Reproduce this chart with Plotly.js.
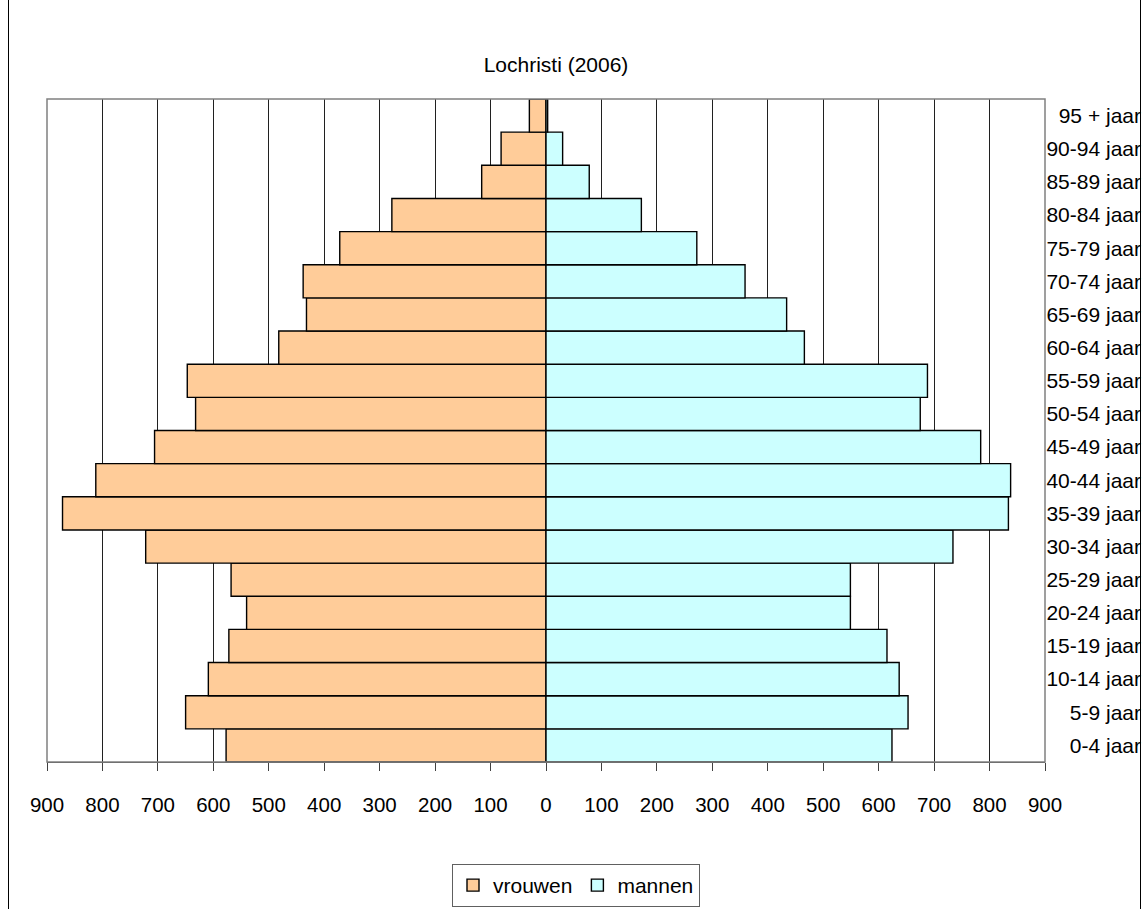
<!DOCTYPE html>
<html>
<head>
<meta charset="utf-8">
<script src="https://cdn.plot.ly/plotly-3.0.1.min.js"></script>
<style>
  html, body { margin: 0; padding: 0; background: #fff; }
  #wrap { position: relative; width: 1142px; height: 909px; }
  #chart { position: absolute; left: 0; top: 0; width: 1142px; height: 909px; }
  #frame { position: absolute; left: 8px; top: -2px; width: 1131px; height: 915px;
           border-left: 1px solid #000; border-right: 1px solid #000; pointer-events: none; }
</style>
</head>
<body>
<div id="wrap">
  <div id="chart"></div>
  <div id="frame"></div>
</div>
<script>
const ageGroups = ['0-4 jaar','5-9 jaar','10-14 jaar','15-19 jaar','20-24 jaar','25-29 jaar',
  '30-34 jaar','35-39 jaar','40-44 jaar','45-49 jaar','50-54 jaar','55-59 jaar','60-64 jaar',
  '65-69 jaar','70-74 jaar','75-79 jaar','80-84 jaar','85-89 jaar','90-94 jaar','95 + jaar'];

const vrouwen = [577, 650, 609, 572, 540, 568, 722, 872, 812, 706, 632, 647, 482, 432, 438, 372, 278, 116, 81, 30];
const mannen  = [624, 653, 637, 615, 549, 549, 734, 834, 838, 784, 675, 688, 466, 434, 359, 272, 172, 78, 30, 3];

const tickValues = [-900,-800,-700,-600,-500,-400,-300,-200,-100,0,100,200,300,400,500,600,700,800,900];
const tickLabels = ['900','800','700','600','500','400','300','200','100','0','100','200','300','400','500','600','700','800','900'];

const FONT = 'Liberation Sans, Arial, sans-serif';

const traces = [
  {
    type: 'bar', orientation: 'h', name: 'vrouwen',
    y: ageGroups, x: vrouwen.map(v => -v),
    marker: { color: '#FFCC99', line: { color: '#000000', width: 1.4 } },
    hoverinfo: 'skip'
  },
  {
    type: 'bar', orientation: 'h', name: 'mannen',
    y: ageGroups, x: mannen,
    marker: { color: '#CCFFFF', line: { color: '#000000', width: 1.4 } },
    hoverinfo: 'skip'
  }
];

const layout = {
  width: 1142, height: 909,
  margin: { l: 47, r: 1, t: 99, b: 147, pad: 0 },
  paper_bgcolor: '#ffffff', plot_bgcolor: '#ffffff',
  font: { family: FONT, size: 21, color: '#000000' },
  barmode: 'relative', bargap: 0,
  title: {
    text: 'Lochristi (2006)',
    font: { family: FONT, size: 21, color: '#000000' },
    xref: 'container', x: 556 / 1142, xanchor: 'center',
    yref: 'container', y: 1 - 65 / 909, yanchor: 'middle'
  },
  xaxis: {
    domain: [0, 998 / 1094],
    range: [-900, 900],
    tickmode: 'array', tickvals: tickValues, ticktext: tickLabels,
    ticks: 'outside', ticklen: 8, tickwidth: 1, tickcolor: '#404040',
    showgrid: true, gridcolor: '#202020', gridwidth: 1,
    zeroline: false,
    showline: true, linecolor: '#404040', linewidth: 1,
    tickfont: { family: FONT, size: 20.5, color: '#000000' },
    ticklabelstandoff: 16,
    fixedrange: true
  },
  yaxis: {
    type: 'category',
    categoryorder: 'array', categoryarray: ageGroups,
    anchor: 'free', position: 1, side: 'left',
    ticks: '', showgrid: false, zeroline: false, showline: false,
    tickfont: { family: FONT, size: 21, color: '#000000' },
    ticklabelstandoff: 0,
    fixedrange: true
  },
  shapes: [
    { type: 'rect', xref: 'x domain', yref: 'y domain', x0: 0, x1: 1, y0: 0, y1: 1,
      line: { color: '#808080', width: 1.5 }, fillcolor: 'rgba(0,0,0,0)', layer: 'above' }
  ],
  showlegend: true,
  legend: {
    orientation: 'h',
    xref: 'paper', x: (576 - 47) / 1094, xanchor: 'center',
    yref: 'paper', y: -(864 - 762) / 663, yanchor: 'top',
    bgcolor: '#ffffff', bordercolor: '#606060', borderwidth: 1,
    font: { family: FONT, size: 21, color: '#000000' },
    itemwidth: 30
  }
};

Plotly.newPlot('chart', traces, layout, { staticPlot: true, displayModeBar: false });
</script>
</body>
</html>
